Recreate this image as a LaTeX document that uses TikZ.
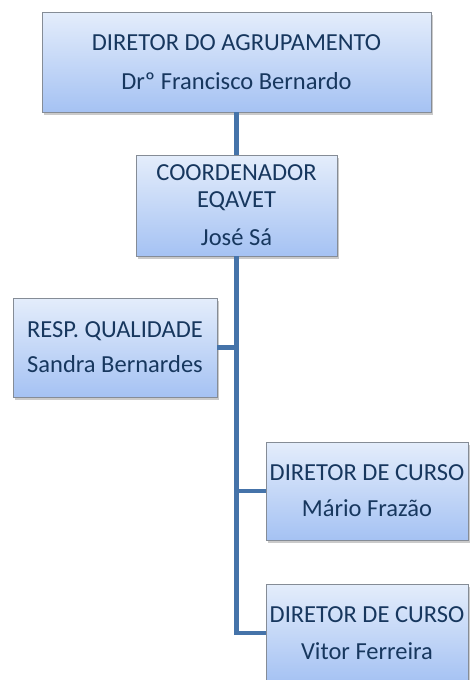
\documentclass[tikz,border=0pt]{standalone}
\usepackage{fontspec}
\setmainfont{Carlito}
\usetikzlibrary{shadows}
\definecolor{txt}{HTML}{17375E}
\definecolor{linec}{HTML}{4573A9}
\definecolor{boxtop}{HTML}{E4EDFB}
\definecolor{boxbot}{HTML}{A5C2F3}
\definecolor{boxdraw}{HTML}{858C96}
\tikzset{
  orgbox/.style={draw=boxdraw, line width=0.8pt, top color=boxtop, bottom color=boxbot,
    drop shadow={shadow xshift=2pt, shadow yshift=-3pt, opacity=0.35, fill=black!60},
    text=txt, align=center, font=\fontsize{24.5}{27}\selectfont, inner sep=0pt},
  conn/.style={draw=linec, line width=4.5pt}
}
\begin{document}
\begin{tikzpicture}[x=1pt,y=-1pt]
\useasboundingbox (0,0) rectangle (469,680);
\node[orgbox, minimum width=389pt, minimum height=100pt] (dir) at (236.5,62)
  {DIRETOR DO AGRUPAMENTO\\[12pt]Drº Francisco Bernardo};
\node[orgbox, minimum width=201pt, minimum height=101pt] (coord) at (236.5,205.5)
  {COORDENADOR\\EQAVET\\[11pt]José Sá};
\node[orgbox, minimum width=204pt, minimum height=99pt] (resp) at (115,347.5)
  {RESP. QUALIDADE\\[8pt]Sandra Bernardes};
\node[orgbox, minimum width=202pt, minimum height=98pt] (dc1) at (367,491)
  {DIRETOR DE CURSO\\[9pt]Mário Frazão};
\node[orgbox, minimum width=202pt, minimum height=98pt] (dc2) at (367,633)
  {DIRETOR DE CURSO\\[10pt]Vitor Ferreira};
\draw[conn] (dir.south) -- (coord.north);
\draw[conn] (coord.south) -- (coord.south |- dc2.west) -- (dc2.west);
\draw[conn] (coord.south |- resp.east) -- (resp.east);
\draw[conn] (coord.south |- dc1.west) -- (dc1.west);
\end{tikzpicture}
\end{document}
